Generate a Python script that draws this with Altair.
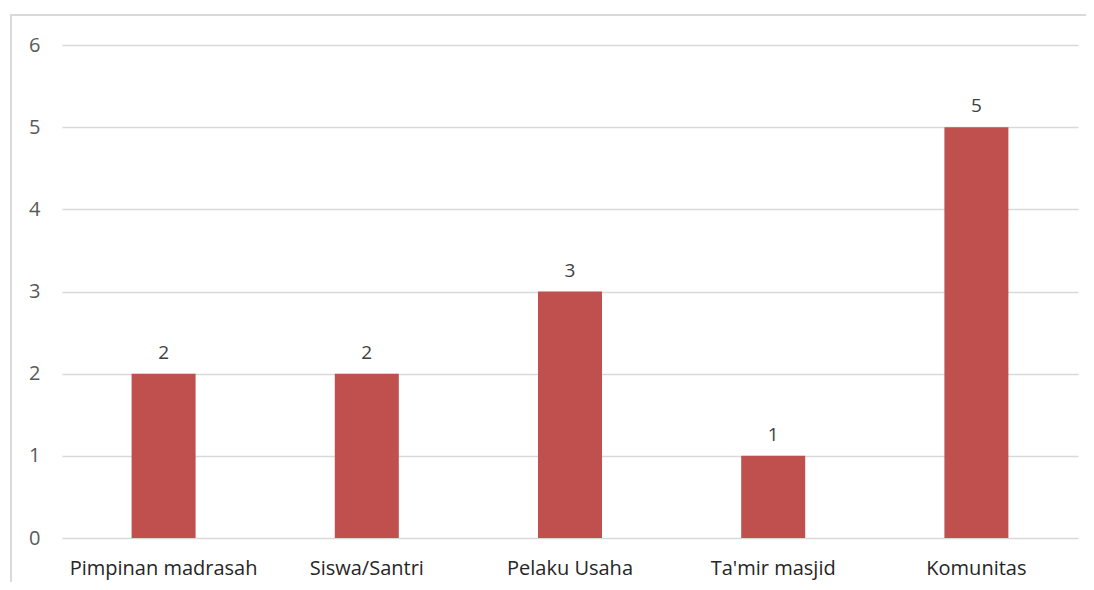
import altair as alt
import pandas as pd

categories = ["Pimpinan madrasah", "Siswa/Santri", "Pelaku Usaha", "Ta'mir masjid", "Komunitas"]
values = [2, 2, 3, 1, 5]
y_ticks = [0, 1, 2, 3, 4, 5, 6]

df = pd.DataFrame({"kategori": categories, "jumlah": values})

W, H = 1016, 493
FONT = "Open Sans"

x_enc = alt.X("kategori:N", sort=categories, title=None,
              scale=alt.Scale(paddingInner=0.685, paddingOuter=0.3425),
              axis=alt.Axis(labelAngle=0, labelFontSize=20, labelColor="#262626",
                            labelFont=FONT, ticks=False, domain=False, labelPadding=20,
                            labelLimit=400, grid=False))
y_enc = alt.Y("jumlah:Q", title=None,
              scale=alt.Scale(domain=[0, 6], nice=False),
              axis=alt.Axis(values=y_ticks, format="d", labelFontSize=20, labelColor="#595959",
                            labelFont=FONT, ticks=False, domain=False, labelPadding=22,
                            gridColor="#d9d9d9", gridWidth=1.5))

bars = alt.Chart(df).mark_bar(color="#C0504D").encode(x=x_enc, y=y_enc)

text = alt.Chart(df).mark_text(dy=-21, fontSize=19, color="#404040", font=FONT).encode(
    x=alt.X("kategori:N", sort=categories), y="jumlah:Q", text="jumlah:Q")

frame = alt.Chart(df).mark_rect(fill=None, stroke="#d9d9d9", strokeWidth=2).encode(
    x=alt.value(-51), x2=alt.value(W + 200), y=alt.value(-30), y2=alt.value(H + 200))

chart = alt.layer(frame, bars, text).properties(
    width=W, height=H,
    background="white",
    autosize=alt.AutoSizeParams(type="none"),
    padding={"left": 54, "top": 37, "right": 8, "bottom": 44},
).configure_view(strokeWidth=0, stroke="transparent")

chart.save("out.html", embed_options={"renderer": "svg", "actions": False})
